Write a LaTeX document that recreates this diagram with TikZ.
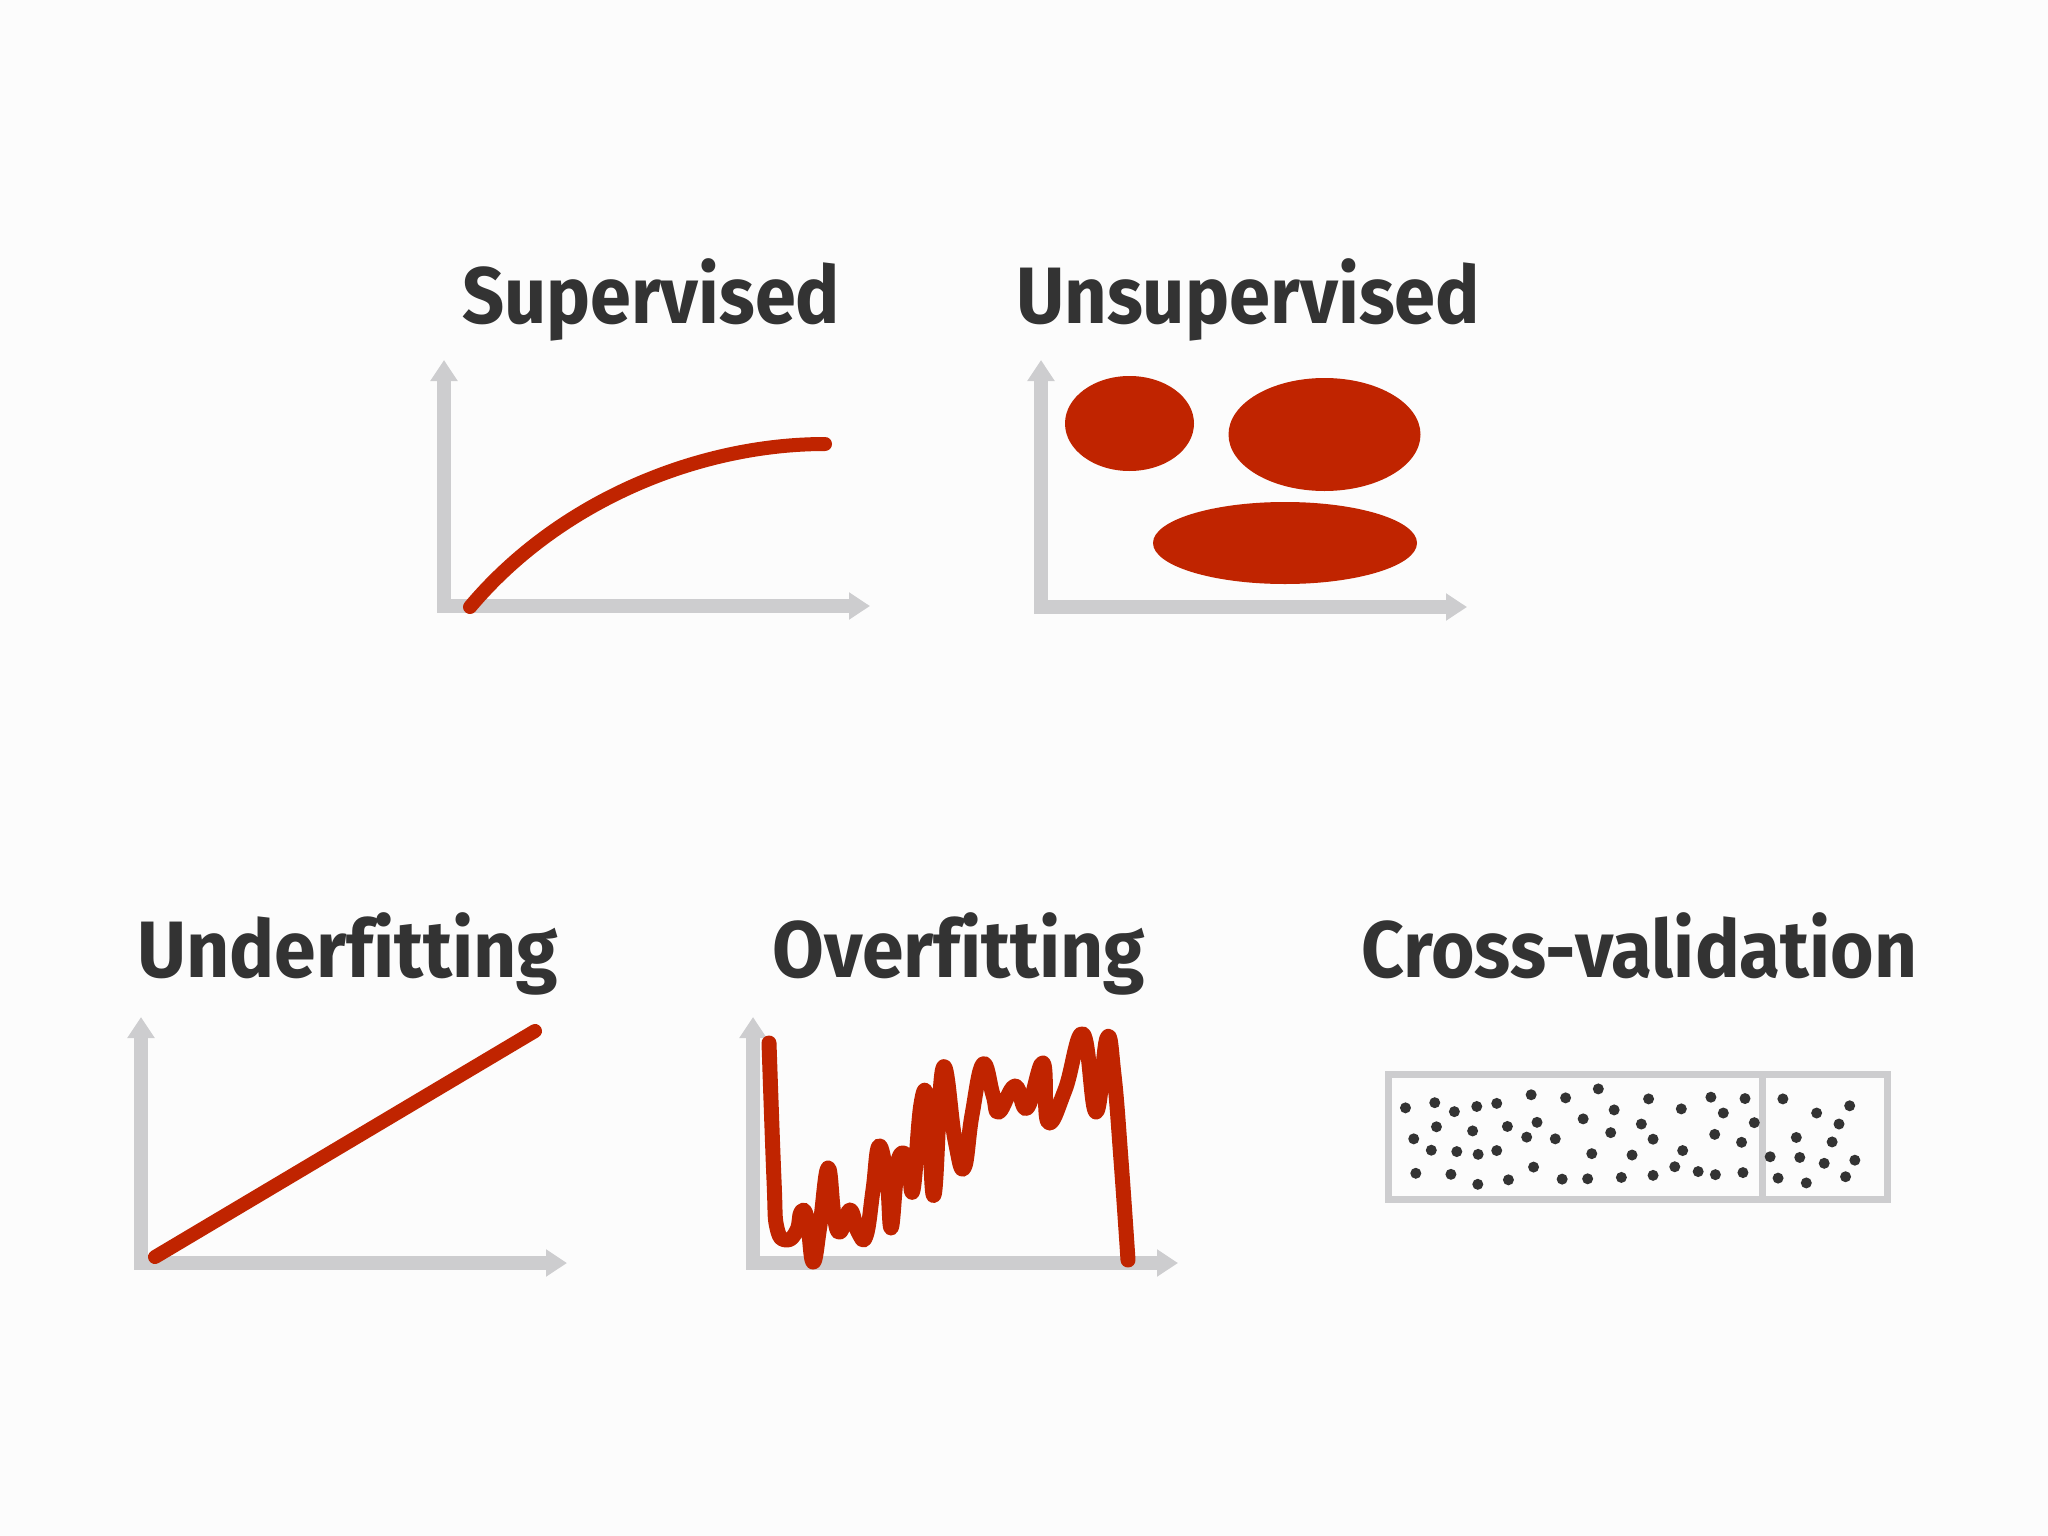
\documentclass[tikz,border=0pt]{standalone}
\usepackage{fontspec}
\setmainfont[Ligatures=NoCommon]{Fira Sans}
\usetikzlibrary{arrows.meta}
\definecolor{mlred}{RGB}{192,36,0}
\definecolor{axisgray}{RGB}{205,205,207}
\definecolor{ink}{RGB}{51,51,51}
\definecolor{bgcol}{RGB}{252,252,252}
\newcommand\fitw[2]{\resizebox{#1}{\height}{#2}}
\tikzset{
  axis/.style={draw=axisgray, line width=14pt, line join=miter,
    {Triangle[width=26pt,length=21pt]}-{Triangle[width=26pt,length=21pt]}},
  curve/.style={draw=mlred, line width=14pt, line cap=round, line join=round},
  blob/.style={fill=mlred},
  title/.style={anchor=base west, inner sep=0pt, text=ink,
    font=\fontsize{80}{80}\selectfont\bfseries},
  boxline/.style={draw=axisgray, line width=7pt},
  dot/.style={fill=ink},
}
\begin{document}
\begin{tikzpicture}[x=1pt,y=-1pt]
\fill[bgcol] (0,0) rectangle (2048,1536);
\useasboundingbox (0,0) rectangle (2048,1536);

% titles
\node[title] (tsup) at (462,323) {\fitw{378pt}{Supervised}};
\node[title] (tuns) at (1016,323) {\fitw{464pt}{Unsupervised}};
\node[title] (tund) at (137,977) {\fitw{421pt}{Underfitting}};
\node[title] (tove) at (772,977) {\fitw{373pt}{Overfitting}};
\node[title] (tcv) at (1361,977) {\fitw{556pt}{Cross-validation}};

% supervised
\draw[axis] (444,360) -- (444,606) -- (870,606);
\draw[curve] (470,607) .. controls (560,500) and (700,444) .. (825,444);

% unsupervised
\draw[axis] (1041,360) -- (1041,607) -- (1467,607);
\fill[blob] (1129.5,423.5) ellipse [x radius=64.5pt, y radius=47.5pt];
\fill[blob] (1324.5,434.5) ellipse [x radius=96pt, y radius=56.5pt];
\fill[blob] (1285,543) ellipse [x radius=132pt, y radius=41pt];

% underfitting
\draw[axis] (141,1017) -- (141,1263) -- (567,1263);
\draw[curve] (155,1257) -- (535,1031);

% overfitting
\draw[axis] (753,1017) -- (753,1263) -- (1178,1263);
\draw[curve, line width=15pt] plot[smooth, tension=0.75] coordinates {
(769,1043) (774,1180) (777,1228) (787,1240) (797,1230) (801,1212) (807,1218)
(813,1262) (820,1225) (828,1168) (834,1215) (840,1232) (850,1210)
(858,1232) (866,1236) (873,1190) (879,1146) (887,1180) (891,1228)
(896,1180) (900,1155) (908,1160) (913,1190) (921,1104) (928,1104)
(934,1195) (943,1068) (955,1140) (964,1168) (972,1115) (983,1064)
(993,1095) (999,1112) (1015,1086) (1027,1108)
(1043,1063) (1048,1122) (1065,1090) (1083,1034)
(1096,1112) (1107,1038) (1114,1075) (1121,1160)
(1128,1260)};

% cross-validation
\draw[boxline] (1388,1074) rectangle (1887,1199);
\draw[boxline] (1762,1074) -- (1762,1199);
\foreach \a/\b in {
103/168,188/153,245/179,310/164,368/155,468/130,568/139,663/113,709/174,
809/142,904/171,990/137,1089/141,1026/183,1116/211,
193/223,298/235,399/222,485/210,619/200,788/215,1001/245,1079/268,
127/258,455/253,538/258,699/240,822/259,
178/291,252/295,314/303,368/292,644/301,761/305,908/292,
133/358,235/361,313/390,402/377,475/340,558/375,632/374,730/370,822/364,
885/339,953/353,1003/362,1083/356,
1199/142,1393/162,1297/183,1362/215,1238/254,1342/267,1162/310,1248/312,
1319/329,1408/320,1185/372,1267/386,1381/368}
  \fill[dot] (1370+\a/2.904,1050+\b/2.904) circle[radius=5.5pt];
\end{tikzpicture}
\end{document}
